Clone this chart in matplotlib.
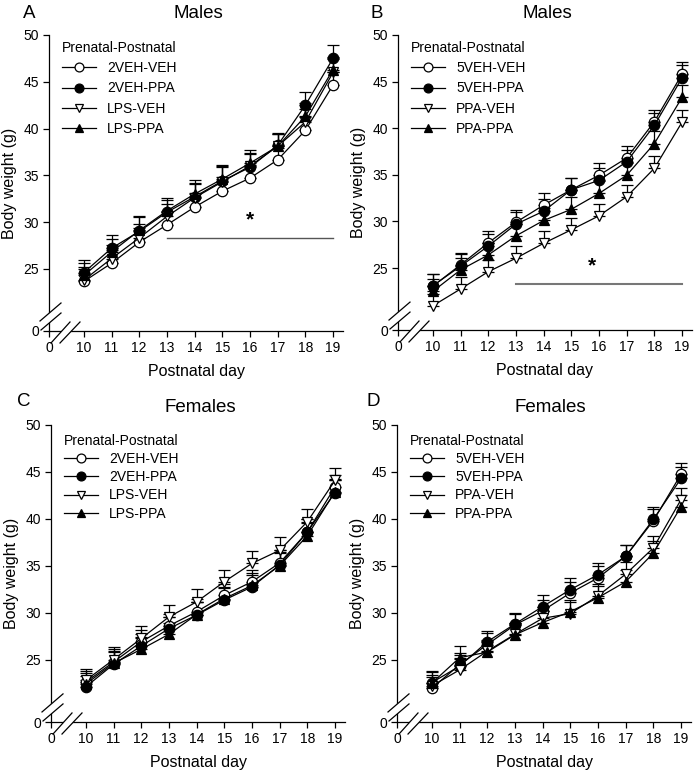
import numpy as np
import matplotlib.pyplot as plt
from matplotlib.patches import Polygon

plt.rcParams['font.family'] = ['Liberation Sans', 'DejaVu Sans']

days = [10, 11, 12, 13, 14, 15, 16, 17, 18, 19]

# A - males, LPS study
a_veh_veh = [23.65, 25.6, 27.85, 29.7, 31.6, 33.3, 34.7, 36.65, 39.8, 44.65]
a_veh_ppa = [24.6, 27.2, 29.0, 31.05, 32.7, 34.4, 35.85, 38.2, 42.5, 47.5]
a_lps_veh = [23.8, 26.1, 28.3, 30.6, 32.6, 34.3, 36.0, 38.1, 40.7, 46.0]
a_lps_ppa = [24.3, 26.8, 29.1, 31.2, 33.0, 34.6, 36.3, 38.1, 41.3, 46.3]
a_err = [1.35, 1.4, 1.5, 1.35, 1.5, 1.55, 1.4, 1.3, 1.4, 1.4]

# B - males, PPA study
b_veh_veh = [23.05, 25.35, 27.7, 29.9, 31.75, 33.4, 34.95, 36.8, 40.7, 45.8]
b_veh_ppa = [23.1, 25.2, 27.35, 29.7, 31.1, 33.4, 34.4, 36.4, 40.3, 45.4]
b_ppa_veh = [20.95, 22.75, 24.6, 26.05, 27.65, 29.1, 30.6, 32.65, 35.7, 40.65]
b_ppa_ppa = [22.5, 24.8, 26.4, 28.45, 30.1, 31.3, 33.0, 34.95, 38.35, 43.3]
b_err = [1.3, 1.3, 1.3, 1.3, 1.3, 1.3, 1.3, 1.3, 1.3, 1.35]

# C - females, LPS study
c_veh_veh = [22.6, 24.75, 26.9, 28.6, 30.1, 31.85, 33.3, 35.3, 38.6, 43.4]
c_veh_ppa = [22.1, 24.5, 26.45, 28.3, 29.75, 31.35, 32.75, 35.1, 38.6, 42.8]
c_lps_veh = [22.8, 25.0, 27.25, 29.55, 31.15, 33.3, 35.25, 36.65, 39.7, 44.1]
c_lps_ppa = [22.4, 24.6, 26.1, 27.7, 29.8, 31.5, 32.9, 35.0, 38.2, 42.9]
c_err = [1.2, 1.35, 1.3, 1.25, 1.35, 1.25, 1.3, 1.4, 1.35, 1.3]

# D - females, PPA study
d_veh_veh = [21.95, 24.45, 26.6, 28.7, 30.2, 32.1, 33.7, 36.0, 39.8, 44.75]
d_veh_ppa = [22.55, 24.3, 26.9, 28.8, 30.65, 32.45, 34.05, 36.0, 39.95, 44.3]
d_ppa_veh = [22.2, 23.9, 25.9, 27.7, 29.4, 29.9, 31.8, 34.1, 36.9, 42.05]
d_ppa_ppa = [22.5, 25.2, 25.8, 27.65, 28.95, 30.1, 31.6, 33.3, 36.35, 41.3]
d_err = [1.2, 1.2, 1.2, 1.2, 1.2, 1.2, 1.25, 1.25, 1.3, 1.2]

lps_labels = ['2VEH-VEH', '2VEH-PPA', 'LPS-VEH', 'LPS-PPA']
ppa_labels = ['5VEH-VEH', '5VEH-PPA', 'PPA-VEH', 'PPA-PPA']

y_ticks = [25, 30, 35, 40, 45, 50]
Y0 = 18.35   # where the broken axis puts "0"
X0 = 8.74

styles = [('o', 'white'), ('o', 'black'), ('v', 'white'), ('^', 'black')]

W, H = 699, 775
fig = plt.figure(figsize=(W / 100, H / 100), dpi=100)


def make_ax(l, t, r, b):
    return fig.add_axes([l / W, 1 - b / H, (r - l) / W, (b - t) / H])


def draw_break(ax, axw, axh):
    def seg(p, q):
        ax.plot([p[0] / axw, q[0] / axw], [p[1] / axh, q[1] / axh],
                transform=ax.transAxes, color='k', lw=0.9, clip_on=False, zorder=5)

    # y axis slashes
    y1 = ((-9, 10), (12, 28))
    y2 = ((-8, 1), (12, 18))
    # x axis slashes
    x1 = ((2, -12), (21, 9))
    x2 = ((11, -12), (31, 9))
    for s1, s2 in [(y1, y2), (x1, x2)]:
        poly = [(s1[0][0] / axw, s1[0][1] / axh), (s1[1][0] / axw, s1[1][1] / axh),
                (s2[1][0] / axw, s2[1][1] / axh), (s2[0][0] / axw, s2[0][1] / axh)]
        ax.add_patch(Polygon(poly, closed=True, transform=ax.transAxes, facecolor='white',
                             edgecolor='none', clip_on=False, zorder=4))
        seg(*s1)
        seg(*s2)


def panel(ax, series, err, labels, legend_y, spacing):
    handles = []
    for i, ys in enumerate(series):
        m, fc = styles[i]
        ax.errorbar(days, ys, yerr=[np.zeros(len(ys)), err], fmt='none', ecolor='k',
                    elinewidth=0.9, capsize=4, capthick=0.9, zorder=2 + i * 0.1)
        h, = ax.plot(days, ys, color='k', lw=0.9, marker=m, ms=7.5, mfc=fc, mec='k',
                     mew=0.9, zorder=3 + i * 0.1)
        handles.append(h)
    ax.set_xlim(X0, 19.36)
    ax.set_ylim(Y0, 50)
    ax.set_xticks([X0] + days)
    ax.set_xticklabels(['0'] + [str(d) for d in days])
    ax.set_yticks([Y0] + y_ticks)
    ax.set_yticklabels(['0'] + [str(v) for v in y_ticks])
    ax.spines['top'].set_visible(False)
    ax.spines['right'].set_visible(False)
    ax.spines['left'].set_linewidth(0.9)
    ax.spines['bottom'].set_linewidth(0.9)
    ax.tick_params(direction='out', length=4, width=0.9, labelsize=10, pad=3)
    ax.set_xlabel('Postnatal day', fontsize=11.5, labelpad=7)
    ax.set_ylabel('Body weight (g)', fontsize=11.5, labelpad=5)
    ax.legend(handles, labels, title='Prenatal-Postnatal', loc='upper left',
              bbox_to_anchor=(0.045, legend_y), frameon=False, fontsize=10,
              title_fontsize=10, alignment='left', handlelength=2.4,
              handletextpad=0.85, labelspacing=spacing, borderpad=0,
              borderaxespad=0, markerscale=0.85)
    draw_break(ax, 294, 296)


ax_a = make_ax(49, 35, 343, 331)
panel(ax_a, [a_veh_veh, a_veh_ppa, a_lps_veh, a_lps_ppa], a_err, lps_labels, 0.98, 0.45)
ax_a.plot([13, 19], [28.3, 28.3], color='#555555', lw=1.0, zorder=1)
ax_a.text(16, 30.2, '*', fontsize=15, fontweight='bold', ha='center', va='center')

ax_b = make_ax(398, 35, 692, 330)
panel(ax_b, [b_veh_veh, b_veh_ppa, b_ppa_veh, b_ppa_ppa], b_err, ppa_labels, 0.98, 0.45)
ax_b.plot([13, 19], [23.3, 23.3], color='#777777', lw=1.5, zorder=1)
ax_b.text(15.75, 25.2, '*', fontsize=15, fontweight='bold', ha='center', va='center')

ax_c = make_ax(51, 425, 345, 722)
panel(ax_c, [c_veh_veh, c_veh_ppa, c_lps_veh, c_lps_ppa], c_err, lps_labels, 0.97, 0.3)

ax_d = make_ax(397, 425, 691, 722)
panel(ax_d, [d_veh_veh, d_veh_ppa, d_ppa_veh, d_ppa_ppa], d_err, ppa_labels, 0.97, 0.3)

# panel letters and titles
fig.text(29 / W, 1 - 14 / H, 'A', fontsize=13.5, ha='center', va='center')
fig.text(198 / W, 1 - 14 / H, 'Males', fontsize=13.5, ha='center', va='center')
fig.text(377 / W, 1 - 14 / H, 'B', fontsize=13.5, ha='center', va='center')
fig.text(547 / W, 1 - 14 / H, 'Males', fontsize=13.5, ha='center', va='center')
fig.text(24 / W, 1 - 402 / H, 'C', fontsize=13.5, ha='center', va='center')
fig.text(200 / W, 1 - 407 / H, 'Females', fontsize=13.5, ha='center', va='center')
fig.text(373 / W, 1 - 402 / H, 'D', fontsize=13.5, ha='center', va='center')
fig.text(550 / W, 1 - 407 / H, 'Females', fontsize=13.5, ha='center', va='center')

fig.savefig('out.png', dpi=100)
